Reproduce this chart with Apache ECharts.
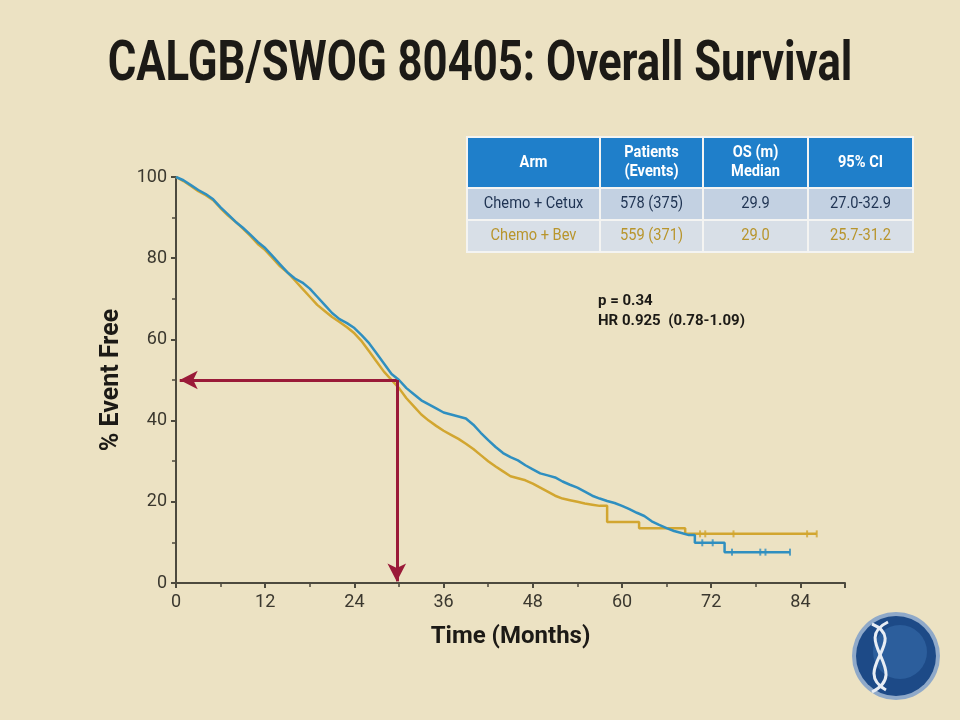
<!DOCTYPE html>
<html>
<head>
<meta charset="utf-8">
<script src="https://cdn.jsdelivr.net/npm/echarts@6/dist/echarts.min.js"></script>
<style>
  html, body { margin: 0; padding: 0; background: #ece2c3; }
  #chart { width: 960px; height: 720px; }
</style>
</head>
<body>
<div id="chart"></div>
<script>
// survival data: [months, % event free]
var cetuxCurve = [
    [0,100],[1,99.2],[2,98],[3,96.8],[4,95.8],[5,94.5],[6,92.5],[7,90.8],[8,89],[9,87.5],
    [10,85.8],[11,84],[12,82.5],[13,80.5],[14,78.5],[15,76.5],[16,75],[17,74],[18,72.5],[19,70.5],
    [20,68.5],[21,66.5],[22,65],[23,64],[24,62.8],[25,61],[26,59],[27,56.5],[28,54],[29,51.5],
    [30,50],[31,48],[32,46.5],[33,45],[34,44],[35,43],[36,42],[37,41.5],[38,41],[39,40.5],
    [40,39],[41,37],[42,35.2],[43,33.5],[44,32],[45,31],[46,30.2],[47,29],[48,28],[49,27],
    [50,26.5],[51,26],[52,25],[53,24.2],[54,23.5],[55,22.5],[56,21.5],[57,20.8],[58,20.2],[59,19.7],
    [60,19],[61,18.2],[62,17.3],[63,16.5],[64,15.2],[65,14.3],[66,13.5],[67,12.8],[68,12.3],[69,11.8],
    [69.8,11.8],[69.8,9.9],[73.8,9.9],[73.8,7.6],[82.6,7.6]
];
var bevCurve = [
    [0,100],[1,99],[2,97.8],[3,96.5],[4,95.5],[5,94.3],[6,92.3],[7,90.5],[8,89],[9,87.3],
    [10,85.5],[11,83.5],[12,82],[13,80],[14,78],[15,76.5],[16,74.5],[17,72.5],[18,70.5],[19,68.5],
    [20,67],[21,65.5],[22,64.3],[23,63],[24,61.5],[25,59.5],[26,57],[27,54.5],[28,52],[29,50],
    [30,48],[31,45.5],[32,43.5],[33,41.5],[34,40],[35,38.7],[36,37.5],[37,36.5],[38,35.5],[39,34.3],
    [40,33],[41,31.5],[42,30],[43,28.7],[44,27.5],[45,26.3],[46,25.8],[47,25.3],[48,24.5],[49,23.5],
    [50,22.5],[51,21.5],[52,20.8],[53,20.4],[54,20],[55,19.6],[56,19.3],[57,19],[58,19],[58,15],
    [62.3,15],[62.3,13.5],[68.5,13.5],[68.5,12.1],[86.2,12.1]
];
// censor marks in the tails
var cetuxCensor = [[70.8,9.9],[72.2,9.9],[74.8,7.6],[78.6,7.6],[79.3,7.6],[82.6,7.6]];
var bevCensor = [[70.5,12.1],[71.2,12.1],[75,12.1],[84.9,12.1],[86.2,12.1]];

// median read-off arrows
var medianMonth = 29.7;
var medianPct = 50;

// table text
var tableHeader = ['Arm', 'Patients\n(Events)', 'OS (m)\nMedian', '95% CI'];
var rowCetux = ['Chemo + Cetux', '578 (375)', '29.9', '27.0-32.9'];
var rowBev = ['Chemo + Bev', '559 (371)', '29.0', '25.7-31.2'];
var statsLines = ['p = 0.34', 'HR 0.925  (0.78-1.09)'];

var blue = '#2f8fc0';
var gold = '#d2a630';
var arrowRed = '#9a1a38';
var narrow = 'Roboto, "Liberation Sans", sans-serif';

var myChart = echarts.init(document.getElementById('chart'));

// table built from graphic rects
var colX = [468, 601, 704, 809];
var colW = [131, 101, 103, 103];
var rowY = [138, 189, 221];
var rowH = [49, 30, 30];
var rowFill = ['#1f7fca', '#c3d1e2', '#d8dfe7'];
var rowColor = ['#ffffff', '#1f3352', '#b8952c'];
var rows = [tableHeader, rowCetux, rowBev];
var tableGraphic = [{
    type: 'rect',
    shape: { x: 466, y: 136, width: 448, height: 117 },
    style: { fill: '#f4f4f2' }
}];
rows.forEach(function (row, r) {
    row.forEach(function (txt, c) {
        tableGraphic.push({
            type: 'rect',
            shape: { x: colX[c], y: rowY[r], width: colW[c], height: rowH[r] },
            style: { fill: rowFill[r] }
        });
        tableGraphic.push({
            type: 'text',
            x: colX[c] + colW[c] / 2,
            y: rowY[r] + rowH[r] / 2,
            scaleX: 0.86,
            style: {
                text: txt,
                fill: rowColor[r],
                font: (r === 0 ? 'bold ' : '') + '17px ' + narrow,
                align: 'center',
                verticalAlign: 'middle',
                lineHeight: 19
            }
        });
    });
});

option = {
    backgroundColor: '#ece2c3',
    animation: false,
    grid: {
        left: 176,
        right: 115,
        top: 177,
        bottom: 137
    },
    xAxis: {
        type: 'value',
        min: 0,
        max: 90,
        interval: 12,
        name: 'Time (Months)',
        nameLocation: 'middle',
        nameGap: 42,
        nameTextStyle: { fontFamily: narrow, fontWeight: 'bold', fontSize: 24, color: '#1c1a16' },
        axisLine: { lineStyle: { color: '#4d4a3e', width: 2 } },
        axisTick: { show: true, length: 5, lineStyle: { color: '#4d4a3e', width: 2 } },
        minorTick: { show: true, splitNumber: 2, length: 4, lineStyle: { color: '#4d4a3e', width: 1.5 } },
        splitLine: { show: false },
        axisLabel: {
            showMaxLabel: false,
            margin: 10,
            fontFamily: narrow,
            fontSize: 18,
            color: '#3b382f'
        }
    },
    yAxis: {
        type: 'value',
        min: 0,
        max: 100,
        interval: 20,
        name: '% Event Free',
        nameLocation: 'middle',
        nameGap: 52,
        nameRotate: 90,
        nameTextStyle: { fontFamily: narrow, fontWeight: 'bold', fontSize: 25, color: '#1c1a16' },
        axisLine: { show: true, lineStyle: { color: '#4d4a3e', width: 2 } },
        axisTick: { show: true, length: 5, lineStyle: { color: '#4d4a3e', width: 2 } },
        minorTick: { show: true, splitNumber: 2, length: 4, lineStyle: { color: '#4d4a3e', width: 1.5 } },
        splitLine: { show: false },
        axisLabel: {
            margin: 9,
            fontFamily: narrow,
            fontSize: 18,
            color: '#3b382f'
        }
    },
    series: [
        {
            name: 'Chemo + Bev',
            type: 'line',
            data: bevCurve,
            showSymbol: false,
            lineStyle: { color: gold, width: 2.5 },
            z: 3
        },
        {
            name: 'Chemo + Cetux',
            type: 'line',
            data: cetuxCurve,
            showSymbol: false,
            lineStyle: { color: blue, width: 2.5 },
            z: 4,
            markLine: {
                silent: true,
                symbol: ['none', 'arrow'],
                symbolSize: [14, 18],
                label: { show: false },
                lineStyle: { color: arrowRed, width: 3, type: 'solid' },
                data: [
                    [{ coord: [medianMonth, medianPct] }, { coord: [0.5, medianPct] }],
                    [{ coord: [medianMonth, medianPct] }, { coord: [medianMonth, 0.4] }]
                ]
            }
        },
        {
            type: 'scatter',
            data: bevCensor,
            symbol: 'rect',
            symbolSize: [2, 7],
            itemStyle: { color: gold },
            z: 5
        },
        {
            type: 'scatter',
            data: cetuxCensor,
            symbol: 'rect',
            symbolSize: [2, 7],
            itemStyle: { color: blue },
            z: 5
        }
    ],
    graphic: tableGraphic.concat([
        {
            type: 'text',
            x: 480,
            y: 66,
            scaleX: 0.78,
            style: {
                text: 'CALGB/SWOG 80405: Overall Survival',
                font: 'bold 56px ' + narrow,
                fill: '#1c1a16',
                align: 'center',
                verticalAlign: 'middle'
            }
        },
        {
            type: 'text',
            left: 598,
            top: 291,
            style: {
                text: statsLines.join('\n'),
                font: 'bold 15px ' + narrow,
                fill: '#1c1a16',
                lineHeight: 20
            }
        },
        // logo badge
        {
            type: 'circle',
            shape: { cx: 896, cy: 656, r: 44 },
            style: { fill: '#8fa9c9' }
        },
        {
            type: 'circle',
            shape: { cx: 896, cy: 656, r: 40 },
            style: { fill: '#1d4a87' }
        },
        {
            type: 'circle',
            shape: { cx: 900, cy: 652, r: 27 },
            style: { fill: '#2c5e9c' }
        },
        {
            type: 'bezierCurve',
            shape: { x1: 872, y1: 624, x2: 886, y2: 690, cpx1: 910, cpy1: 640, cpx2: 850, cpy2: 670 },
            style: { stroke: '#e8edf4', lineWidth: 3, fill: 'none' }
        },
        {
            type: 'bezierCurve',
            shape: { x1: 888, y1: 622, x2: 872, y2: 692, cpx1: 850, cpy1: 640, cpx2: 912, cpy2: 672 },
            style: { stroke: '#e8edf4', lineWidth: 3, fill: 'none' }
        }
    ])
};

myChart.setOption(option);
</script>
</body>
</html>
